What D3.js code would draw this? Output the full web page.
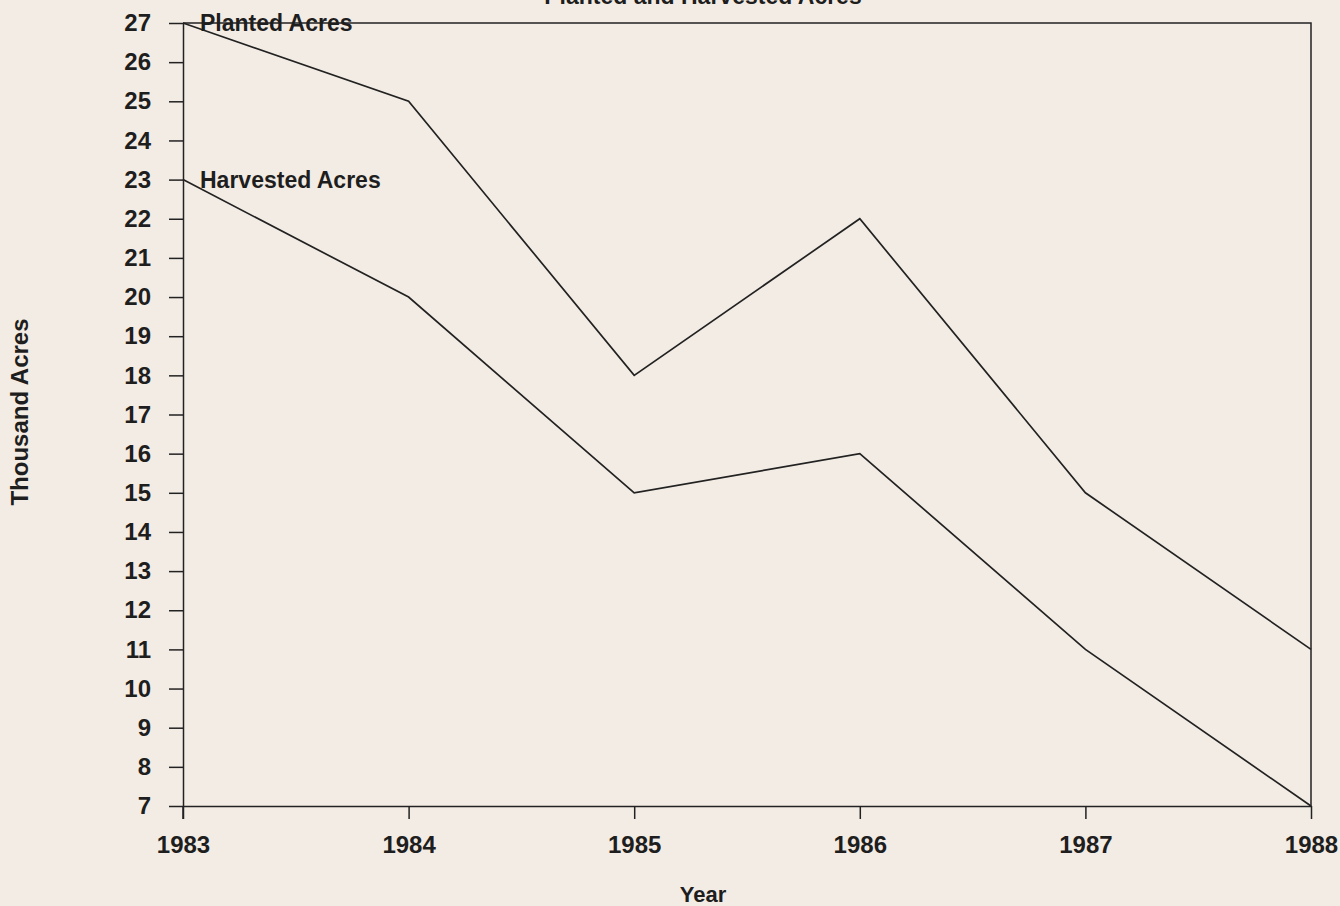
<html>
<head>
<meta charset="utf-8">
<title>Planted and Harvested Acres</title>
<script src="https://d3js.org/d3.v7.min.js"></script>
<style>
  body { margin: 0; background: #f3ece4; }
  svg text { font-family: "Liberation Sans", Arial, sans-serif; fill: #1e1e1e; }
</style>
</head>
<body>
<div id="chart"></div>
<script>
  // data (thousand acres)
  const years = [1983, 1984, 1985, 1986, 1987, 1988];
  const planted = [27, 25, 18, 22, 15, 11];
  const harvested = [23, 20, 15, 16, 11, 7];
  const yTicks = [7, 8, 9, 10, 11, 12, 13, 14, 15, 16, 17, 18, 19, 20, 21, 22, 23, 24, 25, 26, 27];

  const width = 1340, height = 906;
  const margin = { top: 23, right: 29, bottom: 100, left: 183 };

  const svg = d3.select("#chart")
    .append("svg")
    .attr("width", width)
    .attr("height", height);

  var x = d3.scaleLinear()
    .domain([1983, 1988])
    .range([margin.left, width - margin.right]);

  var y = d3.scaleLinear()
    .domain([7, 27])
    .range([height - margin.bottom, margin.top]);

  // title, mostly cut off at the top of the scan
  svg.append("text")
    .attr("x", 703)
    .attr("y", 4)
    .attr("text-anchor", "middle")
    .style("font-size", "23px")
    .style("font-weight", "bold")
    .text("Planted and Harvested Acres");

  // frame: top and right edges
  svg.append("path")
    .attr("d", "M" + x(1983) + "," + y(27) + "H" + x(1988) + "V" + y(7))
    .attr("fill", "none")
    .attr("stroke", "#222")
    .attr("stroke-width", 1.5);

  // x axis
  const xAxis = svg.append("g")
    .attr("transform", "translate(0," + y(7) + ")")
    .call(d3.axisBottom(x).tickValues(years).tickFormat(d3.format("d")).tickSize(13).tickSizeOuter(0));
  xAxis.select(".domain").attr("stroke", "#222").attr("stroke-width", 1.5);
  xAxis.selectAll(".tick line").attr("stroke", "#222").attr("stroke-width", 1.5);
  xAxis.selectAll(".tick text")
    .attr("y", 30)
    .attr("dy", "0.71em")
    .style("font-size", "24px")
    .style("font-weight", "bold")
    .attr("fill", "#1e1e1e");

  // y axis
  const yAxis = svg.append("g")
    .attr("transform", "translate(" + x(1983) + ",0)")
    .call(d3.axisLeft(y).tickValues(yTicks).tickSize(14).tickSizeOuter(0));
  yAxis.select(".domain").attr("stroke", "#222").attr("stroke-width", 1.5);
  yAxis.selectAll(".tick line").attr("stroke", "#222").attr("stroke-width", 1.5);
  yAxis.selectAll(".tick text")
    .attr("x", -32)
    .style("font-size", "24px")
    .style("font-weight", "bold")
    .attr("fill", "#1e1e1e");

  // 1983 tick below the corner
  svg.append("line")
    .attr("x1", x(1983)).attr("x2", x(1983))
    .attr("y1", y(7)).attr("y2", y(7) + 13)
    .attr("stroke", "#222").attr("stroke-width", 1.5);

  // axis titles
  svg.append("text")
    .attr("x", 703)
    .attr("y", 894)
    .attr("dy", "0.35em")
    .attr("text-anchor", "middle")
    .style("font-size", "22px")
    .style("font-weight", "bold")
    .text("Year");

  svg.append("text")
    .attr("transform", "translate(20,412) rotate(-90)")
    .attr("dy", "0.35em")
    .attr("text-anchor", "middle")
    .style("font-size", "24px")
    .style("font-weight", "bold")
    .text("Thousand Acres");

  // lines
  const line = d3.line()
    .x(d => x(d[0]))
    .y(d => y(d[1]));

  const series = [
    { name: "Planted Acres", values: planted },
    { name: "Harvested Acres", values: harvested }
  ];

  series.forEach(s => {
    const pts = years.map((yr, i) => [yr, s.values[i]]);
    svg.append("path")
      .datum(pts)
      .attr("d", line)
      .attr("fill", "none")
      .attr("stroke", "#222")
      .attr("stroke-width", 1.7);

    svg.append("text")
      .attr("x", x(1983) + 17)
      .attr("y", y(s.values[0]))
      .attr("dy", "0.35em")
      .style("font-size", "23px")
      .style("font-weight", "bold")
      .text(s.name);
  });
</script>
</body>
</html>
